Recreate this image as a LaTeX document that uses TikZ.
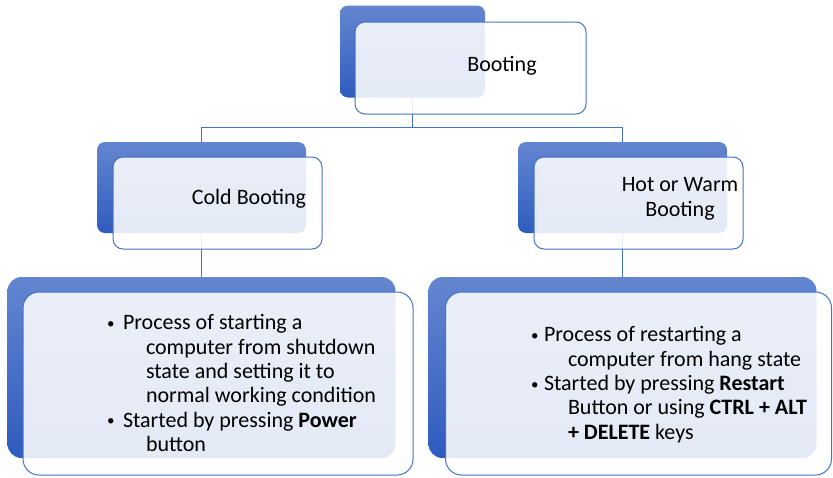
\documentclass[tikz,border=0pt]{standalone}
\usepackage{fontspec}
\setmainfont{Carlito}
\definecolor{lineblue}{RGB}{68,114,196}
\definecolor{topblue}{RGB}{100,134,208}
\definecolor{botblue}{RGB}{46,92,190}
\newcommand{\mybul}{{\fontsize{15}{15}\selectfont\raisebox{1.5pt}{\textbullet}}}
\begin{document}
\begin{tikzpicture}[x=1pt,y=-1pt,
  bluebox/.style={rectangle,inner sep=0pt,outer sep=0pt,draw=none,top color=topblue,bottom color=botblue},
  whitebox/.style={rectangle,inner sep=0pt,outer sep=0pt,draw=lineblue,line width=1pt,fill=white,fill opacity=0.87,draw opacity=1},
  conn/.style={draw=lineblue,line width=1pt},
  txt/.style={inner sep=0pt,outer sep=0pt,font=\fontsize{22}{24.4}\selectfont,text=black}
]
\useasboundingbox (0,0) rectangle (833,477);
% back boxes
\node[bluebox,rounded corners=8pt,minimum width=145pt,minimum height=92pt] (tb) at (412.5,51.5) {};
\node[bluebox,rounded corners=8pt,minimum width=209pt,minimum height=91pt] (lb) at (201.5,187.5) {};
\node[bluebox,rounded corners=8pt,minimum width=209pt,minimum height=91pt] (rb) at (622.5,187.5) {};
\node[bluebox,rounded corners=14pt,minimum width=388pt,minimum height=181pt] (blb) at (201.5,367.5) {};
\node[bluebox,rounded corners=14pt,minimum width=388pt,minimum height=181pt] (brb) at (622.5,367.5) {};
% connectors
\coordinate (j) at (412.5,127);
\draw[conn] (tb.south) -- (j);
\draw[conn] (j) -| (lb.north);
\draw[conn] (j) -| (rb.north);
\draw[conn] (lb.south) -- (blb.north);
\draw[conn] (rb.south) -- (brb.north);
% front boxes
\node[whitebox,rounded corners=10pt,minimum width=231pt,minimum height=92pt] (tw) at (470.5,68) {};
\node[whitebox,rounded corners=10pt,minimum width=209pt,minimum height=92pt] (lw) at (217.5,203) {};
\node[whitebox,rounded corners=10pt,minimum width=209pt,minimum height=92pt] (rw) at (638.5,203) {};
\node[whitebox,rounded corners=16pt,minimum width=390pt,minimum height=183pt] (blw) at (218,383.5) {};
\node[whitebox,rounded corners=16pt,minimum width=386pt,minimum height=183pt] (brw) at (638.5,383.5) {};
% texts
\node[txt,anchor=base] (t1) at (502,71) {Booting};
\node[txt,anchor=base] (t2) at (249,204) {Cold Booting};
\node[txt,align=center,anchor=center] (t3) at (680,199) {Hot or Warm\\Booting};
\node[txt,align=left,anchor=north west] (t4) at (107,314.5) {%
\makebox[16pt][l]{\mybul}Process of starting a\\
\hspace*{39pt}computer from shutdown\\
\hspace*{39pt}state and setting it to\\
\hspace*{39pt}normal working condition\\
\makebox[16pt][l]{\mybul}Started by pressing \textbf{Power}\\
\hspace*{39pt}button};
\node[txt,align=left,anchor=north west] (t5) at (531,326.5) {%
\makebox[13pt][l]{\mybul}Process of restarting a\\
\hspace*{37pt}computer from hang state\\
\makebox[13pt][l]{\mybul}Started by pressing \textbf{Restart}\\
\hspace*{37pt}Button or using \textbf{CTRL + ALT}\\
\hspace*{37pt}\textbf{+ DELETE} keys};
\end{tikzpicture}
\end{document}
